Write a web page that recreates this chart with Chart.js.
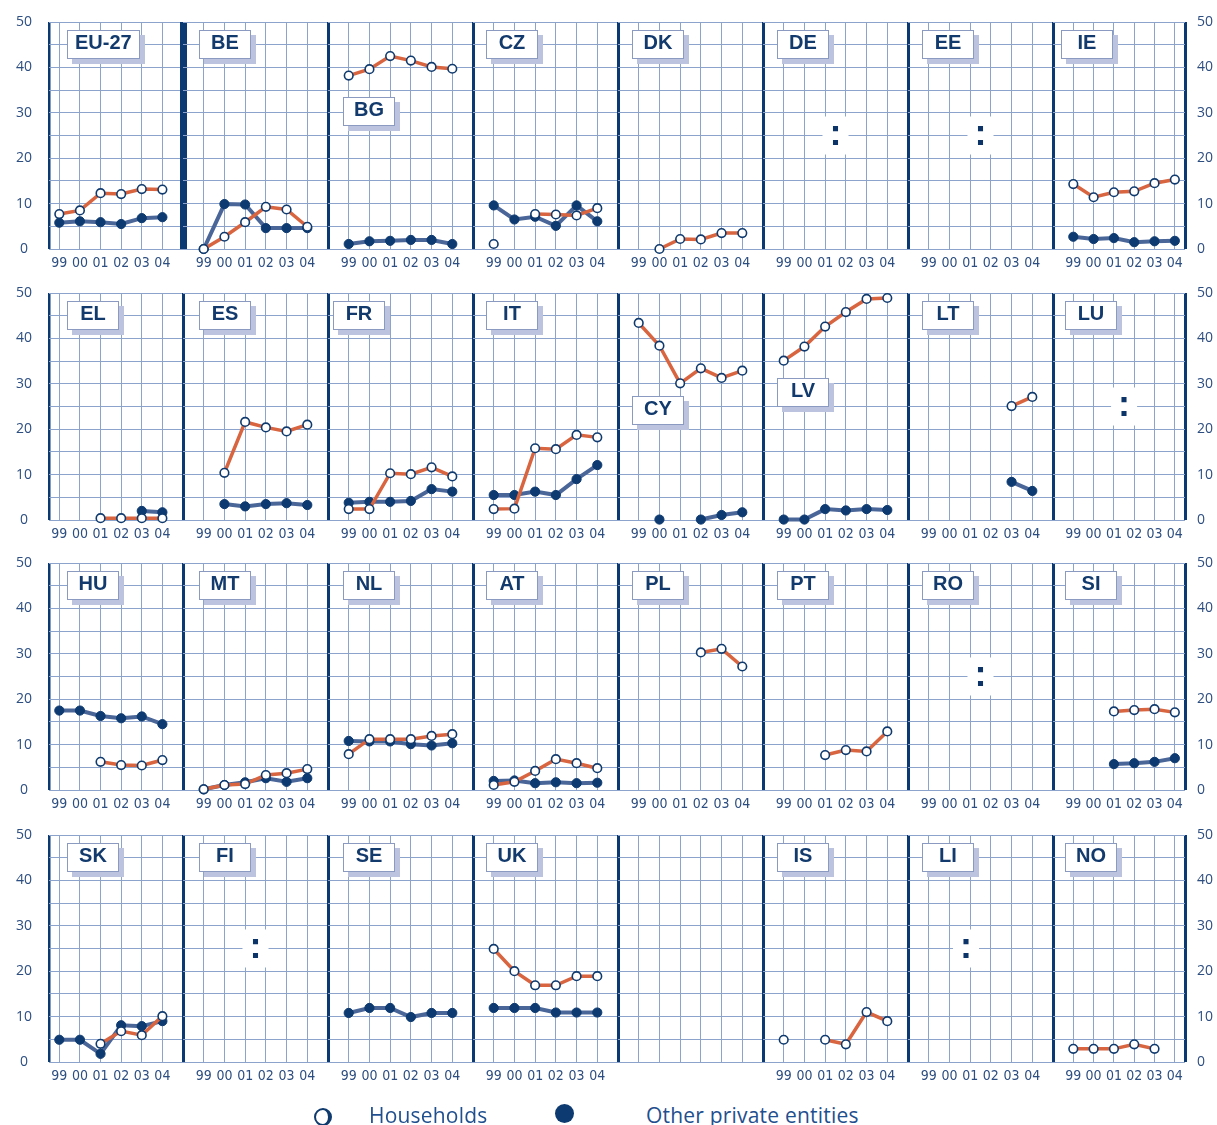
<!DOCTYPE html>
<html>
<head>
<meta charset="utf-8">
<script src="https://cdn.jsdelivr.net/npm/chart.js@4.4.0/dist/chart.umd.min.js"></script>
<style>
  body { margin: 0; background: #fff; width: 1217px; height: 1125px; overflow: hidden; position: relative; }
  .panel { position: absolute; }
  .tag {
    position: absolute; z-index: 5; height: 29px; line-height: 28px; min-width: 52px;
    padding: 0 7px; box-sizing: border-box; text-align: center; background: #fff;
    border: 1px solid #8a9ac0; box-shadow: 5px 5px 0 #bcc3df;
    color: #123a6d; font: bold 20px "Liberation Sans", Arial, sans-serif;
  }
  .lg { position: absolute; z-index: 5; color: #1f4f8e; font: 21px "Open Sans", sans-serif; line-height: 24px; letter-spacing: 0.2px; }
  .ring { position: absolute; width: 12px; height: 14px; border: 2px solid #0f3a6e; border-right-width: 4px; border-radius: 50%; }
  .dot { position: absolute; width: 19px; height: 19px; border-radius: 50%; background: #0d3a70; }
</style>
</head>
<body>
<div class="ring" style="left:314px; top:1108px"></div>
<div class="lg" style="left:369px; top:1103px">Households</div>
<div class="dot" style="left:555px; top:1104px"></div>
<div class="lg" style="left:646px; top:1103px">Other private entities</div>

<script>
// ===================== data =====================
const years = ['99', '00', '01', '02', '03', '04'];

const countries = [
  'EU-27', 'BE', 'BG', 'CZ', 'DK', 'DE', 'EE', 'IE',
  'EL', 'ES', 'FR', 'IT', 'CY', 'LV', 'LT', 'LU',
  'HU', 'MT', 'NL', 'AT', 'PL', 'PT', 'RO', 'SI',
  'SK', 'FI', 'SE', 'UK', '', 'IS', 'LI', 'NO'
];

const households = [
  [7.7, 8.5, 12.3, 12.1, 13.2, 13.1],
  [0, 2.7, 5.9, 9.3, 8.7, 4.9],
  [38.2, 39.6, 42.5, 41.5, 40.1, 39.7],
  [1.1, null, 7.7, 7.6, 7.4, 9.0],
  [null, 0, 2.2, 2.1, 3.5, 3.5],
  [],
  [],
  [14.3, 11.4, 12.5, 12.7, 14.5, 15.3],

  [null, null, 0.4, 0.4, 0.4, 0.4],
  [null, 10.4, 21.6, 20.4, 19.5, 21.0],
  [2.4, 2.4, 10.3, 10.1, 11.6, 9.6],
  [2.4, 2.5, 15.8, 15.6, 18.75, 18.2],
  [43.4, 38.4, 30.1, 33.4, 31.3, 32.9],
  [35.1, 38.2, 42.6, 45.8, 48.7, 48.9],
  [null, null, null, null, 25.1, 27.1],
  [],

  [null, null, 6.2, 5.5, 5.4, 6.6],
  [0.15, 1.1, 1.3, 3.3, 3.7, 4.6],
  [7.9, 11.2, 11.2, 11.2, 11.9, 12.3],
  [1.1, 1.8, 4.2, 6.8, 5.9, 4.8],
  [null, null, null, 30.3, 31.1, 27.2],
  [null, null, 7.7, 8.8, 8.5, 12.9],
  [],
  [null, null, 17.3, 17.6, 17.8, 17.1],

  [null, null, 4.0, 6.8, 5.9, 10.1],
  [],
  [],
  [24.9, 20.0, 16.9, 16.9, 18.9, 18.9],
  [],
  [4.9, null, 4.9, 3.9, 11.0, 9.0],
  [],
  [2.9, 2.9, 2.9, 3.9, 2.9, null]
];

const others = [
  [5.8, 6.1, 5.9, 5.5, 6.8, 7.0],
  [0, 9.9, 9.8, 4.6, 4.6, 4.6],
  [1.1, 1.7, 1.8, 2.0, 2.0, 1.1],
  [9.6, 6.5, 7.1, 5.1, 9.6, 6.1],
  [],
  [],
  [],
  [2.7, 2.2, 2.4, 1.5, 1.7, 1.8],

  [null, null, null, null, 2.0, 1.7],
  [null, 3.5, 3.0, 3.5, 3.7, 3.3],
  [3.8, 4.0, 4.0, 4.2, 6.8, 6.25],
  [5.5, 5.5, 6.25, 5.5, 9.0, 12.1],
  [null, 0.1, null, 0.1, 1.1, 1.7],
  [0.1, 0.1, 2.4, 2.1, 2.4, 2.2],
  [null, null, null, null, 8.4, 6.4],
  [],

  [17.5, 17.5, 16.3, 15.8, 16.2, 14.5],
  [0.15, 1.1, 1.7, 2.6, 1.8, 2.6],
  [10.8, 10.7, 10.7, 10.1, 9.8, 10.3],
  [2.0, 2.1, 1.5, 1.7, 1.5, 1.6],
  [],
  [],
  [],
  [null, null, 5.7, 5.9, 6.2, 7.0],

  [4.9, 4.9, 1.8, 8.1, 7.9, 9.0],
  [],
  [10.8, 11.9, 11.9, 9.9, 10.8, 10.8],
  [11.9, 11.9, 11.9, 10.9, 10.9, 10.9],
  [],
  [],
  [],
  []
];

// ":" = not available, placed at this year position
const notAvailable = { DE: 2.5, EE: 2.5, LU: 2.5, RO: 2.5, FI: 2.5, LI: 1.8 };
const notAvailableValue = 25;

const yLabels = [0, 10, 20, 30, 40, 50];

// ===================== layout =====================
const rowTop = [22, 293, 563, 835];
const plotH = 227;
const edges = [49, 183, 328, 473, 618, 763, 908, 1053, 1185];
const PAD = 8;
const AXIS_H = 30;
const tagLeft = [67, 199, 343, 486, 632, 777, 922, 1065];
const tagLeftFix = { FR: 333, IE: 1061 };
const tagDrop = { BG: 67, CY: 95, LV: 77 };

const gridColor = '#8ca4cc';
const sepColor = '#0b3a73';
const textColor = '#2d4e80';
const narrow = '"Liberation Sans Narrow", "DejaVu Sans Condensed", "Open Sans", sans-serif';

const naPlugin = {
  id: 'na',
  afterDatasetsDraw(chart, args, opts) {
    if (opts.pos == null) return;
    const { ctx, scales: { x, y } } = chart;
    const px = x.getPixelForValue(opts.pos);
    const py = y.getPixelForValue(notAvailableValue);
    ctx.save();
    ctx.fillStyle = '#fff';
    ctx.fillRect(px - 13, py - 19, 26, 38);
    ctx.fillStyle = '#0d3468';
    ctx.font = 'bold 36px "Liberation Sans", Arial, sans-serif';
    ctx.textAlign = 'center';
    ctx.textBaseline = 'middle';
    ctx.fillText(':', px, py);
    ctx.restore();
  }
};

// keep every panel's plot box the same size, whatever labels it has
const noPad = s => { s.paddingTop = 0; s.paddingBottom = 0; s.paddingLeft = 0; s.paddingRight = 0; };

countries.forEach((name, i) => {
  const r = Math.floor(i / 8), c = i % 8;
  const first = c === 0, last = c === 7;
  const left = edges[c], right = edges[c + 1];
  const cvLeft = first ? 0 : left - PAD;
  const cvRight = last ? 1217 : right + PAD;
  const xmin = first ? -0.5 : -1;
  const xmax = last ? 5.5 : 6;
  const yW = first ? 49 : (last ? 1217 - 1185 : 0);
  const showYears = name !== '';

  const div = document.createElement('div');
  div.className = 'panel';
  div.style.left = cvLeft + 'px';
  div.style.top = (rowTop[r] - PAD) + 'px';
  const cv = document.createElement('canvas');
  cv.width = cvRight - cvLeft;
  cv.height = PAD + plotH + AXIS_H;
  div.appendChild(cv);
  document.body.appendChild(div);

  if (name) {
    const tag = document.createElement('div');
    tag.className = 'tag';
    tag.textContent = name;
    tag.style.left = (tagLeftFix[name] || tagLeft[c]) + 'px';
    tag.style.top = (rowTop[r] + 8 + (tagDrop[name] || 0)) + 'px';
    document.body.appendChild(tag);
  }

  const pts = arr => years.map((y, k) => ({ x: k, y: arr[k] == null ? null : arr[k] }));

  new Chart(cv, {
    type: 'line',
    data: {
      datasets: [{
        label: 'Households',
        data: pts(households[i]),
        borderColor: '#d8653f',
        borderWidth: 3.5,
        pointRadius: 4.3,
        pointBackgroundColor: '#fff',
        pointBorderColor: '#0f3a6e',
        pointBorderWidth: 1.6,
        spanGaps: false,
        clip: false
      }, {
        label: 'Other private entities',
        data: pts(others[i]),
        borderColor: '#4a6699',
        borderWidth: 4,
        pointRadius: 4.6,
        pointBackgroundColor: '#0d3a70',
        pointBorderColor: '#0d3a70',
        pointBorderWidth: 1,
        spanGaps: false,
        clip: false
      }]
    },
    plugins: [naPlugin],
    options: {
      responsive: false,
      animation: false,
      devicePixelRatio: 1,
      layout: { padding: { left: first ? 0 : PAD, right: last ? 0 : PAD, top: PAD, bottom: 0 } },
      plugins: {
        legend: { display: false },
        tooltip: { enabled: false },
        na: { pos: notAvailable[name] }
      },
      scales: {
        x: {
          type: 'linear',
          min: xmin,
          max: xmax,
          afterBuildTicks: s => { s.ticks = [xmin, 0, 1, 2, 3, 4, 5, xmax].map(v => ({ value: v })); },
          afterFit: s => { s.height = AXIS_H; noPad(s); },
          border: { display: false },
          grid: {
            drawTicks: false,
            color: ctx => {
              const v = ctx.tick.value;
              if (v === xmin) return sepColor;
              if (v === xmax) return last ? sepColor : 'rgba(0,0,0,0)';
              return gridColor;
            },
            lineWidth: ctx => {
              const v = ctx.tick.value;
              if (v === xmin) return first ? 2.5 : (r === 0 && c === 1 ? 7 : 3);
              if (v === xmax) return last ? 3 : 0;
              return 1;
            }
          },
          ticks: {
            autoSkip: false,
            maxRotation: 0,
            padding: 6,
            color: textColor,
            font: { family: narrow, size: 14 },
            callback: v => (showYears && Number.isInteger(v) && v >= 0 && v <= 5) ? years[v] : ''
          }
        },
        y: {
          min: 0,
          max: 50,
          position: last ? 'right' : 'left',
          afterBuildTicks: s => { s.ticks = [0, 5, 10, 15, 20, 25, 30, 35, 40, 45, 50].map(v => ({ value: v })); },
          afterFit: s => { s.width = yW; noPad(s); },
          border: { display: false },
          grid: { drawTicks: false, color: gridColor, lineWidth: 1 },
          ticks: {
            display: first || last,
            padding: first ? 17 : 12,
            crossAlign: first ? 'center' : 'near',
            color: textColor,
            font: { family: '"Open Sans", sans-serif', size: 14 },
            callback: v => yLabels.includes(v) ? String(v) : ''
          }
        }
      }
    }
  });
});
</script>
</body>
</html>
